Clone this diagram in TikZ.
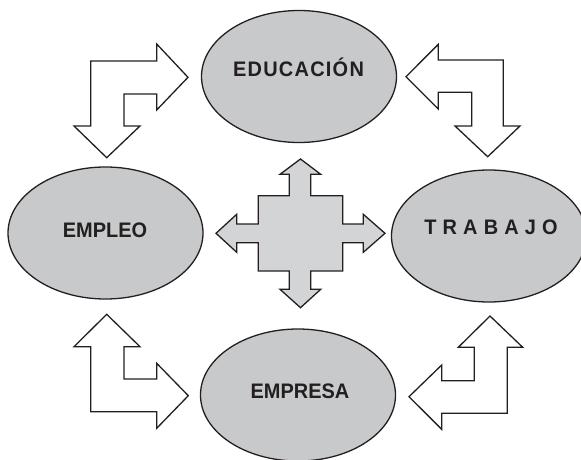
\documentclass[tikz,border=0pt]{standalone}
\usepackage{fontspec}
\setmainfont{Liberation Sans}[FakeStretch=0.95]
\usepackage{tikz}
\usetikzlibrary{positioning, shapes.geometric}

\definecolor{ovalgray}{RGB}{200,201,203}
\definecolor{crossgray}{RGB}{211,212,214}
\definecolor{inkline}{RGB}{35,31,32}

\begin{document}
\begin{tikzpicture}[
  x=1pt, y=-1pt,
  oval/.style={ellipse, draw=inkline, line width=1.3pt, fill=ovalgray,
               minimum width=195pt, minimum height=132pt, inner sep=0pt},
  lbl/.style={anchor=base, inner sep=0pt, text=inkline,
              font=\fontsize{21}{25}\selectfont\bfseries},
  bentarrow/.style={draw=inkline, line width=1.3pt, fill=white, line join=miter},
  cross/.style={draw=inkline, line width=1.3pt, fill=crossgray, line join=miter}
]
\clip (0,0) rectangle (581,460);

% the four ovals
\node[oval] (educ) at (299,76.5) {};
\node[oval] (empleo) at (105.5,233) {};
\node[oval] (trabajo) at (489,236) {};
\node[oval] (empresa) at (298,395) {};

\node[lbl] (educlbl) at (298.5,77) {\addfontfeature{LetterSpace=6}EDUCACIÓN};
\node[lbl] (empleolbl) at (105,237) {EMPLEO};
\node[lbl] (trabajolbl) at (491,234) {\addfontfeature{LetterSpace=3}T R A B A J O};
\node[lbl] (empresalbl) at (300,398) {EMPRESA};

% bent arrows between the ovals
\draw[bentarrow] (106.7,157.7) -- (140,126) -- (124,126) -- (124,94) -- (156.7,94)
  -- (156.7,110) -- (188,77.3) -- (156.7,44) -- (156.7,61) -- (90.7,61)
  -- (90.7,126) -- (74,126) -- cycle;
\draw[bentarrow] (487.7,156.7) -- (455,126) -- (471.7,126) -- (471.7,92.3) -- (438.3,92.3)
  -- (438.3,109) -- (406,76.7) -- (438.3,44.3) -- (438.3,60) -- (503.3,60)
  -- (503.3,126) -- (520,126) -- cycle;
\draw[bentarrow] (106.7,314.3) -- (140,346.7) -- (124,346.7) -- (124,379) -- (156.7,379)
  -- (156.7,363.3) -- (188.3,395.7) -- (156.7,428.3) -- (156.7,411.7) -- (90.7,411.7)
  -- (90.7,346.7) -- (74,346.7) -- cycle;
\draw[bentarrow] (490,316) -- (522.7,347.3) -- (507.3,347.3) -- (507.3,413.3) -- (441.7,413.3)
  -- (441.7,429.3) -- (409,396.7) -- (441.7,365) -- (441.7,380.7) -- (474.3,380.7)
  -- (474.3,347.3) -- (458.3,347.3) -- cycle;

% four-way arrow in the middle
\draw[cross] (300.5,159) -- (320.7,174.3) -- (310.7,174.3) -- (310.7,195.7)
  -- (342.7,195.7) -- (342.7,224) -- (363.3,224) -- (363.3,214.3) -- (385,233.3)
  -- (363.3,252.3) -- (363.3,242.7) -- (342.7,242.7) -- (342.7,271)
  -- (310.7,271) -- (310.7,289.3) -- (320.7,289.3) -- (300.5,307.7)
  -- (280,289.3) -- (289.3,289.3) -- (289.3,271) -- (258.3,271)
  -- (258.3,242.7) -- (236.7,242.7) -- (236.7,252.3) -- (216,233.3)
  -- (236.7,214.3) -- (236.7,224) -- (258.3,224) -- (258.3,195.7)
  -- (289.3,195.7) -- (289.3,174.3) -- (280,174.3) -- cycle;
\end{tikzpicture}
\end{document}
